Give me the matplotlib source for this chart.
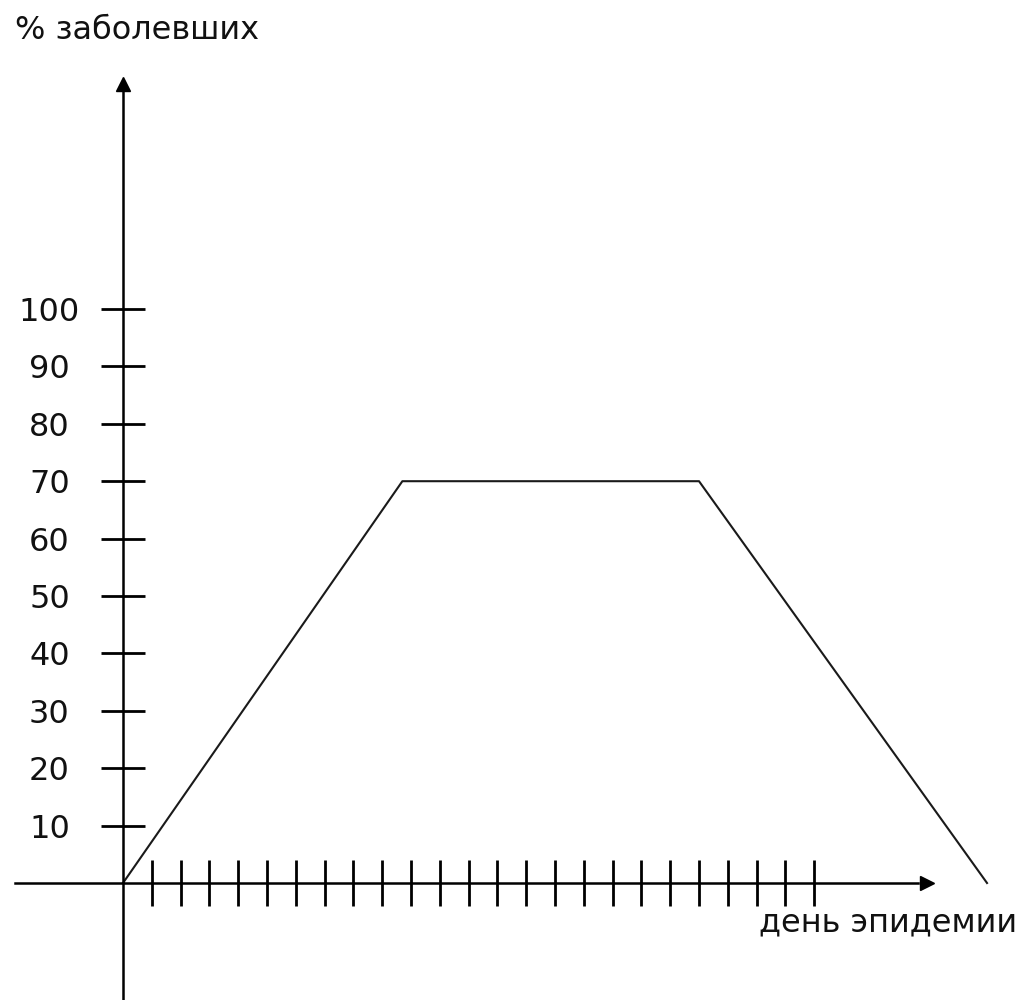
import matplotlib
matplotlib.use("Agg")
import matplotlib.pyplot as plt

# Data
days = [0, 9.7, 20, 30]
percent = [0, 70, 70, 0]
y_ticks = [10, 20, 30, 40, 50, 60, 70, 80, 90, 100]
x_ticks = list(range(1, 25))
y_label = "% заболевших"
x_label = "день эпидемии"

plt.rcParams['font.family'] = ['DejaVu Sans']

fig = plt.figure(figsize=(10.21, 10.0), dpi=100)
ax = fig.add_axes([0, 0, 1, 1])
ax.set_xlim(-4.271, 31.18)
ax.set_ylim(-20.38, 153.83)

for s in ['top', 'right']:
    ax.spines[s].set_visible(False)
ax.spines['left'].set_position(('data', 0))
ax.spines['bottom'].set_position(('data', 0))
ax.spines['left'].set_bounds(-21, 138)
ax.spines['bottom'].set_bounds(-3.75, 27.6)
for s in ['left', 'bottom']:
    ax.spines[s].set_linewidth(1.8)
    ax.spines[s].set_color('black')

ax.set_xticks(x_ticks)
ax.set_xticklabels([])
ax.set_yticks(y_ticks)
ax.set_yticklabels([str(v) for v in y_ticks], fontsize=23, color='#111111')
for lab in ax.get_yticklabels():
    lab.set_horizontalalignment('center')
ax.tick_params(axis='x', direction='inout', length=33, width=2.0, color='black')
ax.tick_params(axis='y', direction='inout', length=32, width=2.0, color='black', pad=37)

# arrowheads
ax.plot([27.9], [0], marker='>', color='black', markersize=10, clip_on=False)
ax.plot([0], [139.2], marker='^', color='black', markersize=10, clip_on=False)

# data line
ax.plot(days, percent, color='#1a1a1a', linewidth=1.5)

ax.text(-3.75, 148.6, y_label, fontsize=23, ha='left', va='center', color='#111111')
ax.text(22.1, -6.9, x_label, fontsize=23, ha='left', va='center', color='#111111')

fig.savefig("out.png", dpi=100)
